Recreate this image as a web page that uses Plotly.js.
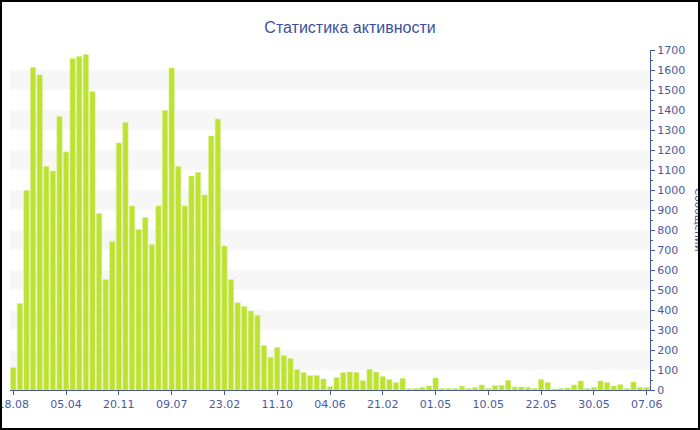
<!DOCTYPE html>
<html>
<head>
<meta charset="utf-8">
<script src="https://cdn.plot.ly/plotly-3.0.1.min.js"></script>
<style>
  html, body { margin: 0; padding: 0; background: #fff; }
  #wrap { position: relative; width: 700px; height: 430px; overflow: hidden; }
  #chart { width: 700px; height: 430px; }
  #frame { position: absolute; left: 0; top: 0; width: 700px; height: 430px; box-sizing: border-box; border: 2px solid #000; pointer-events: none; }
</style>
</head>
<body>
<div id="wrap"><div id="chart"></div><div id="frame"></div></div>
<script>
// Messages per period
const messages = [
  112, 432, 998, 1613, 1575, 1118, 1095, 1368, 1190, 1657,
  1667, 1677, 1493, 882, 552, 743, 1235, 1338, 920, 802,
  862, 727, 920, 1397, 1610, 1118, 920, 1070, 1087, 975,
  1270, 1355, 720, 552, 436, 418, 395, 373, 222, 163,
  212, 172, 157, 102, 87, 72, 73, 55, 17, 62,
  87, 90, 88, 47, 103, 90, 67, 52, 37, 57,
  7, 8, 13, 20, 60, 7, 8, 8, 19, 8,
  13, 25, 7, 22, 23, 48, 15, 15, 13, 8,
  53, 37, 5, 8, 10, 25, 45, 8, 13, 45,
  37, 20, 27, 8, 40, 13, 13
];
// Tick labels (every 8th period)
const tickLabels = ["18.08", "05.04", "20.11", "09.07", "23.02", "11.10", "04.06",
                    "21.02", "01.05", "10.05", "22.05", "30.05", "07.06"];
const tickStep = 8;
const yMax = 1700;
const yStep = 100;
const titleText = "Статистика активности";
const yTitleText = "Сообщений";

const xs = messages.map((_, i) => i);
const tickVals = tickLabels.map((_, i) => i * tickStep);

const axisColor = "#4a5aa0";
const textColor = "#4a5aa0";

const bands = [];
for (let y = yStep; y < yMax; y += 2 * yStep) {
  bands.push({
    type: "rect", xref: "paper", yref: "y",
    x0: 0, x1: 1, y0: y, y1: y + yStep,
    fillcolor: "#f7f7f7", line: { width: 0 }, layer: "below"
  });
}

const trace = {
  type: "bar",
  x: xs,
  y: messages,
  marker: { color: "#bde232", line: { color: "#d6ee84", width: 0.6 } },
  hoverinfo: "y"
};

const layout = {
  width: 700, height: 430,
  margin: { l: 10, r: 50, t: 50, b: 40 },
  paper_bgcolor: "#ffffff",
  plot_bgcolor: "rgba(0,0,0,0)",
  showlegend: false,
  bargap: 0.2,
  title: {
    text: titleText,
    font: { family: "Liberation Sans, Arial, sans-serif", size: 16, color: "#3d4f9c" },
    x: 0.5, xref: "container", xanchor: "center",
    y: 1 - 27 / 430, yref: "container", yanchor: "middle"
  },
  xaxis: {
    range: [-0.5, messages.length - 0.5],
    tickmode: "array",
    tickvals: tickVals,
    ticktext: tickLabels,
    ticklabeloverflow: "allow",
    ticks: "outside", ticklen: 4, tickwidth: 1, tickcolor: axisColor,
    showline: true, linecolor: axisColor, linewidth: 1,
    showgrid: false, zeroline: false,
    tickfont: { family: "DejaVu Sans, Verdana, sans-serif", size: 11, color: textColor },
    fixedrange: true
  },
  yaxis: {
    side: "right",
    range: [0, yMax],
    dtick: yStep, tick0: 0,
    ticks: "outside", ticklen: 4, tickwidth: 1, tickcolor: axisColor,
    minor: { dtick: yStep / 2, ticks: "outside", ticklen: 2, tickcolor: axisColor, showgrid: false },
    showline: true, linecolor: axisColor, linewidth: 1,
    showgrid: false, zeroline: false,
    tickfont: { family: "DejaVu Sans, Verdana, sans-serif", size: 11, color: textColor },
    fixedrange: true
  },
  shapes: bands,
  annotations: [{
    text: yTitleText,
    xref: "paper", yref: "paper",
    x: (699 - 10) / 640, y: 0.5,
    xanchor: "center", yanchor: "middle",
    textangle: 90, showarrow: false,
    font: { family: "DejaVu Sans, Verdana, sans-serif", size: 10.5, color: textColor }
  }]
};

Plotly.newPlot("chart", [trace], layout, { displayModeBar: false, staticPlot: true });
</script>
</body>
</html>
